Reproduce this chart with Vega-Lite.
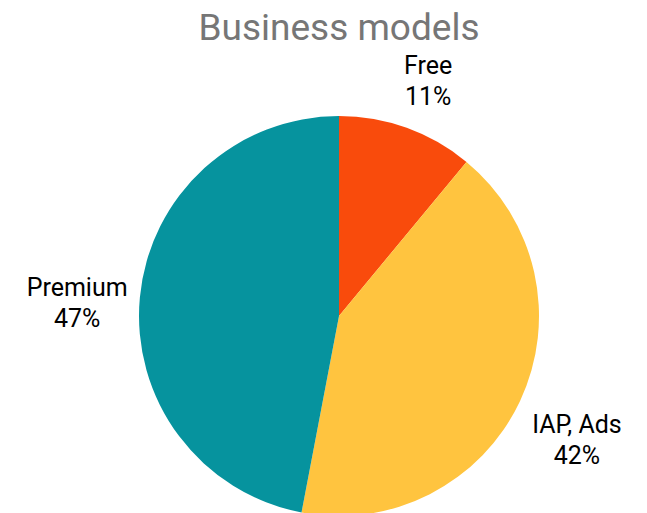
{
  "$schema": "https://vega.github.io/schema/vega-lite/v6.json",
  "width": 400,
  "height": 400,
  "autosize": "none",
  "padding": {"left": 139, "top": 116, "right": 108, "bottom": -3},
  "background": "white",
  "title": {"text": "Business models", "fontSize": 37, "font": "Roboto", "fontWeight": "normal", "color": "#767676", "anchor": "middle", "offset": 6},
  "data": {"values": [
    {"model": "Free", "share": 11, "order": 1, "label": "Free|11%"},
    {"model": "IAP, Ads", "share": 42, "order": 2, "label": "IAP, Ads|42%"},
    {"model": "Premium", "share": 47, "order": 3, "label": "Premium|47%"}
  ]},
  "encoding": {
    "theta": {"field": "share", "type": "quantitative", "stack": true},
    "order": {"field": "order", "type": "quantitative"}
  },
  "layer": [
    {
      "mark": {"type": "arc", "outerRadius": 200},
      "encoding": {
        "color": {"field": "model", "type": "nominal", "legend": null,
          "scale": {"domain": ["Free", "IAP, Ads", "Premium"], "range": ["#F94B0C", "#FFC43F", "#06939E"]}}
      }
    },
    {
      "mark": {"type": "text", "radius": 263, "dy": -3, "fontSize": 25, "font": "Roboto", "color": "#000000", "lineBreak": "|", "lineHeight": 31},
      "encoding": {"text": {"field": "label"}}
    }
  ],
  "view": {"stroke": null}
}
